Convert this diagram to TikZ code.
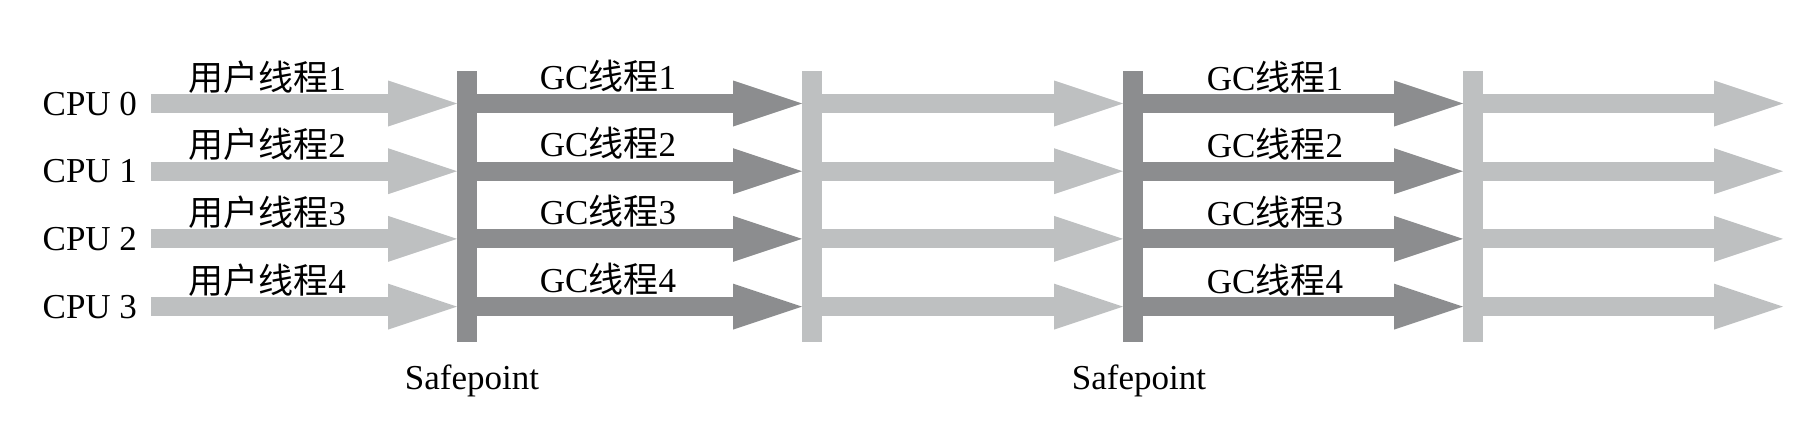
\documentclass[tikz,border=0pt]{standalone}
\usepackage{fontspec}
\setmainfont{Liberation Serif}
\newfontfamily\cjk{Noto Sans CJK SC}
\usetikzlibrary{arrows.meta}
\definecolor{darkg}{RGB}{140,141,143}
\definecolor{lightg}{RGB}{190,192,193}
\begin{document}
\begin{tikzpicture}[x=1pt,y=-1pt,
  barbox/.style={fill=#1, draw=none, minimum width=20pt, minimum height=271pt, inner sep=0pt, outer sep=0pt, anchor=north west},
  thread/.style={draw=#1, line width=19pt, -{Triangle[length=69pt,width=46pt,line width=0pt,fill=#1]}},
  lbl/.style={font=\fontsize{35}{40}\selectfont, inner sep=0pt, outer sep=0pt, text=black}
]
\useasboundingbox (0,0) rectangle (1820,428);
% bars
\node[barbox=darkg]  (sp1) at (457,71) {};
\node[barbox=lightg] (b2)  at (802,71) {};
\node[barbox=darkg]  (sp2) at (1123,71) {};
\node[barbox=lightg] (b4)  at (1463,71) {};
% rows
\foreach \i/\y in {0/103.5,1/171.2,2/238.9,3/306.6}{
  \coordinate (s\i) at (151,\y);
  \coordinate (e\i) at (1783,\y);
  \node[lbl, anchor=base east] (cpu\i) at (137,\y+11.5) {CPU \i};
  \pgfmathtruncatemacro{\n}{\i+1}
  \node[lbl, anchor=base] (u\i) at (267,\y-13.5) {{\cjk 用户线程}\n};
  \node[lbl, anchor=base] (ga\i) at (608,\y-14.5) {GC{\cjk 线程}\n};
  \node[lbl, anchor=base] (gb\i) at (1275,\y-13.5) {GC{\cjk 线程}\n};
  \draw[thread=lightg] (s\i) -- (s\i -| sp1.west);
  \draw[thread=darkg] (sp1.east |- s\i) -- (b2.west |- s\i);
  \draw[thread=lightg] (b2.east |- s\i) -- (sp2.west |- s\i);
  \draw[thread=darkg] (sp2.east |- s\i) -- (b4.west |- s\i);
  \draw[thread=lightg] (b4.east |- s\i) -- (e\i);
}
\node[lbl, anchor=base] (sf1) at (472,389) {Safepoint};
\node[lbl, anchor=base] (sf2) at (1139,389) {Safepoint};
\end{tikzpicture}
\end{document}
